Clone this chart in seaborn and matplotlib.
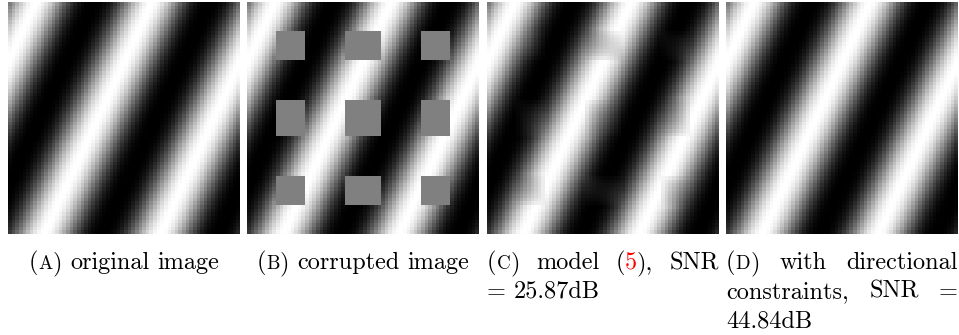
import numpy as np
import matplotlib
matplotlib.use("Agg")
import matplotlib.pyplot as plt
from matplotlib.colors import PowerNorm
import seaborn as sns

# ---------------- data ----------------
N = 64                      # image is 64 x 64 pixels
cycles_x = 2.0              # stripe cycles across the width
cycles_y = 0.93             # stripe cycles down the height
phase_px = 14.0             # white crest sits at column 7 on the top row
display_gamma = 1.4         # dark bands look wider than the light ones

# gray holes of the corrupted image (start, stop) in pixels
hole_rows = [(8, 16), (27, 37), (48, 56)]
hole_cols = [(8, 16), (27, 37), (48, 56)]
hole_shown_gray = 0.5       # holes show as mid gray

panel_tags = ["a", "b", "c", "d"]
caption_lines = [
    ["original image"],
    ["corrupted image"],
    ["model (5), SNR", "= 25.87dB"],
    ["with directional", "constraints, SNR =", "44.84dB"],
]
line_modes = [["center"], ["center"], ["justify", "left"], ["justify", "justify", "left"]]
ref_number = "5"
ref_color = "#ff0000"

# ---------------- build the four images ----------------
ii, jj = np.mgrid[0:N, 0:N]
original = 0.5 + 0.5 * np.cos(2 * np.pi * (cycles_x * jj + cycles_y * ii - phase_px) / N)

mask = np.zeros((N, N), dtype=bool)
for r0, r1 in hole_rows:
    for c0, c1 in hole_cols:
        mask[r0:r1, c0:c1] = True

corrupted = original.copy()
corrupted[mask] = hole_shown_gray ** (1 / display_gamma)

# model (5): plain smooth fill of the holes
model5 = corrupted.copy()
for _ in range(3000):
    nb = 0.25 * (np.roll(model5, 1, 0) + np.roll(model5, -1, 0)
                 + np.roll(model5, 1, 1) + np.roll(model5, -1, 1))
    model5[mask] = nb[mask]

# with directional constraints the stripes are recovered
directional = original.copy()

images = [original, corrupted, model5, directional]

# ---------------- figure ----------------
W, H = 959, 335
fig = plt.figure(figsize=(W / 100, H / 100), dpi=100)
plt.rcParams["font.family"] = "cmr10"
fs = 17.5
fs_sc = fs * 0.78

panel_left = [8, 247, 487, 726]
panel_w = 232
panel_top, panel_h = 2, 232

for img, x0 in zip(images, panel_left):
    ax = fig.add_axes([x0 / W, (H - panel_top - panel_h) / H, panel_w / W, panel_h / H])
    sns.heatmap(img, ax=ax, cmap="gray", norm=PowerNorm(gamma=display_gamma, vmin=0, vmax=1),
                cbar=False, xticklabels=False, yticklabels=False, rasterized=True)
    ax.set_axis_off()

fig.canvas.draw()
renderer = fig.canvas.get_renderer()


def width_of(s, size):
    t = fig.text(0, 0, s, fontsize=size)
    w = t.get_window_extent(renderer).width
    t.remove()
    return w


space_w = width_of("a a", fs) - width_of("aa", fs)


def word_runs(word, tag=None):
    if tag is not None:
        return [("(", fs, "black"), (tag.upper(), fs_sc, "black"), (")", fs, "black")]
    if word.startswith("(" + ref_number):
        rest = word[len(ref_number) + 1:]
        return [("(", fs, "black"), (ref_number, fs, ref_color), (rest, fs, "black")]
    return [(word, fs, "black")]


def draw_line(words, x_left, x_right, y_base, mode):
    widths = [sum(width_of(s, sz) for s, sz, c in w) for w in words]
    if mode == "justify":
        gap = (x_right - x_left - sum(widths)) / (len(words) - 1)
        x = x_left
    else:
        gap = space_w
        total = sum(widths) + gap * (len(words) - 1)
        x = x_left if mode == "left" else (x_left + x_right - total) / 2
    for w, wd in zip(words, widths):
        xx = x
        for s, sz, c in w:
            fig.text(xx / W, (H - y_base) / H, s, fontsize=sz, color=c,
                     ha="left", va="baseline")
            xx += width_of(s, sz)
        x += wd + gap


baselines = [269, 298, 327]
for k, (tag, lines, modes) in enumerate(zip(panel_tags, caption_lines, line_modes)):
    x_left = panel_left[k]
    x_right = panel_left[k] + panel_w
    for n, (line, mode) in enumerate(zip(lines, modes)):
        words = [word_runs(w) for w in line.split(" ")]
        if n == 0:
            words = [word_runs(None, tag)] + words
        draw_line(words, x_left, x_right, baselines[n], mode)

fig.savefig("out.png", dpi=100)
